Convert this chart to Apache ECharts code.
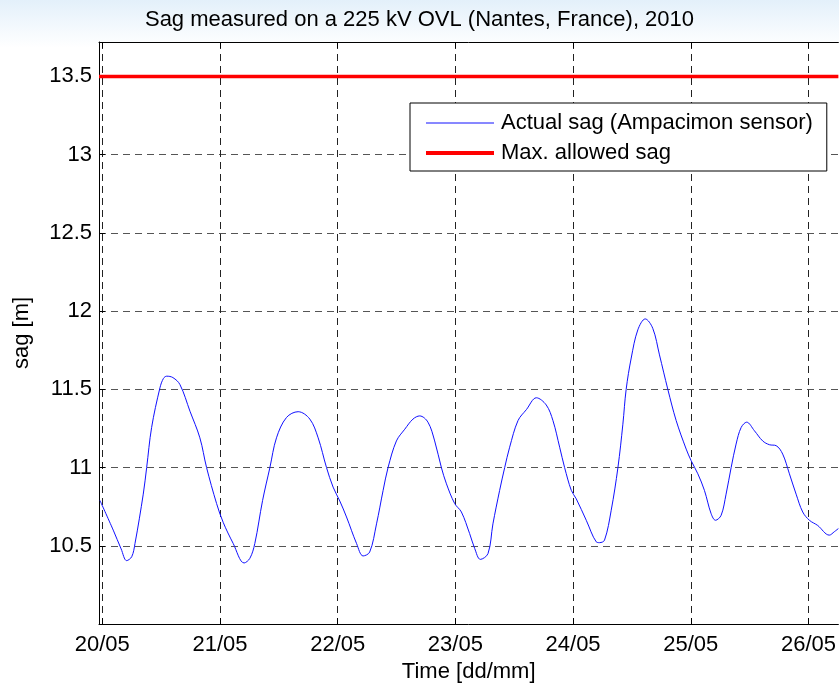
<!DOCTYPE html>
<html>
<head>
<meta charset="utf-8">
<title>Sag measured on a 225 kV OVL</title>
<script src="https://cdn.jsdelivr.net/npm/echarts@6/dist/echarts.min.js"></script>
<style>
  html, body {
    margin: 0;
    padding: 0;
    background: #fff;
  }
  #main-chart {
    width: 839px;
    height: 688px;
    background: linear-gradient(to bottom, #e3f0fa 0px, #f2f8fd 25px, #ffffff 48px);
  }
</style>
</head>
<body>
<div id="main-chart"></div>
<script>
// time axis is in days counted from 20/05 00:00
var dayTicks = [0, 1, 2, 3, 4, 5, 6];
var dayLabels = ['20/05', '21/05', '22/05', '23/05', '24/05', '25/05', '26/05'];

var sagDays = [
  -0.02, 0.093, 0.16, 0.207, 0.25, 0.278, 0.348, 0.377, 0.419, 0.49, 0.52, 0.547, 0.6, 0.66,
  0.745, 0.829, 0.886, 0.971, 1.027, 1.112, 1.205, 1.254, 1.296, 1.362, 1.424, 1.48, 1.565,
  1.664, 1.763, 1.834, 1.905, 1.961, 2.018, 2.075, 2.16, 2.216, 2.272, 2.33, 2.386, 2.428,
  2.499, 2.57, 2.64, 2.697, 2.767, 2.824, 2.881, 2.924, 2.994, 3.051, 3.121, 3.164, 3.212,
  3.277, 3.319, 3.376, 3.419, 3.461, 3.532, 3.603, 3.688, 3.772, 3.829, 3.886, 3.928, 3.985,
  4.027, 4.112, 4.197, 4.225, 4.267, 4.324, 4.381, 4.423, 4.451, 4.494, 4.55, 4.613, 4.677,
  4.734, 4.805, 4.876, 4.961, 5.003, 5.06, 5.116, 5.173, 5.21, 5.258, 5.3, 5.343, 5.385,
  5.428, 5.475, 5.541, 5.611, 5.668, 5.725, 5.781, 5.838, 5.895, 5.951, 6.008, 6.078,
  6.177, 6.22, 6.254
];
var sagValues = [
  10.79, 10.60, 10.48, 10.405, 10.43, 10.515, 10.83, 11.0, 11.256, 11.51, 11.57, 11.584, 11.575, 11.53,
  11.36, 11.19, 11.0, 10.77, 10.65, 10.515, 10.39, 10.42, 10.515, 10.79, 11.0, 11.19, 11.32,
  11.357, 11.31, 11.19, 11.0, 10.875, 10.786, 10.684, 10.515, 10.435, 10.46, 10.64, 10.854, 11.0,
  11.17, 11.245, 11.31, 11.33, 11.29, 11.17, 11.0, 10.896, 10.77, 10.716, 10.578, 10.483, 10.413,
  10.45, 10.64, 10.854, 11.0, 11.13, 11.3, 11.37, 11.446, 11.40, 11.30, 11.13, 11.0, 10.854,
  10.80, 10.663, 10.525, 10.52, 10.536, 10.727, 11.0, 11.277, 11.5, 11.70, 11.88, 11.95, 11.89,
  11.72, 11.5, 11.30, 11.118, 11.044, 10.96, 10.854, 10.705, 10.663, 10.695, 10.83, 11.0, 11.15,
  11.256, 11.29, 11.235, 11.17, 11.146, 11.14, 11.086, 10.96, 10.83, 10.716, 10.663, 10.63,
  10.568, 10.59, 10.61
];

var maxAllowedSag = 13.5;
var xMin = -0.028;
var xMax = 6.254;

var font = '"Liberation Sans", Arial, Helvetica, sans-serif';

function renderChart() {
  var chartDom = document.getElementById('main-chart');
  var myChart = echarts.init(chartDom, null, { renderer: 'canvas' });

  var sagData = sagDays.map(function (d, i) {
    return [d, sagValues[i]];
  });
  var limitData = [[xMin, maxAllowedSag], [xMax, maxAllowedSag]];

  var dayFormatter = function (v) {
    var idx = dayTicks.indexOf(Math.round(v));
    return idx >= 0 ? dayLabels[idx] : '';
  };

  var option = {
    backgroundColor: 'transparent',
    animation: false,
    textStyle: { fontFamily: font },
    title: {
      text: 'Sag measured on a 225 kV OVL (Nantes, France), 2010',
      left: 'center',
      top: 4,
      padding: [5, 0, 5, 96],
      textStyle: {
        fontFamily: font,
        fontSize: 22,
        fontWeight: 'normal',
        color: '#000'
      }
    },
    legend: {
      orient: 'vertical',
      left: 410,
      top: 103,
      padding: [9, 14, 7, 14],
      itemGap: 8,
      itemWidth: 68,
      itemHeight: 24,
      backgroundColor: '#fff',
      borderColor: '#000',
      borderWidth: 1,
      itemStyle: { opacity: 0 },
      textStyle: { fontFamily: font, fontSize: 22, color: '#000', padding: [0, 0, 0, 2] },
      data: [
        { name: 'Actual sag (Ampacimon sensor)', lineStyle: { color: '#1010ff', width: 1 } },
        { name: 'Max. allowed sag', lineStyle: { color: '#ff0000', width: 4 } }
      ]
    },
    grid: {
      left: 99,
      right: 0,
      top: 42,
      bottom: 61,
      show: true,
      backgroundColor: '#fff',
      borderWidth: 0
    },
    xAxis: [
      {
        type: 'value',
        min: xMin,
        max: xMax,
        name: 'Time [dd/mm]',
        nameLocation: 'middle',
        nameGap: 37,
        nameTextStyle: { fontFamily: font, fontSize: 22, color: '#000' },
        axisLine: { show: true, onZero: false, lineStyle: { color: '#000', width: 1 } },
        axisTick: { show: true, inside: true, length: 6, customValues: dayTicks, lineStyle: { color: '#000' } },
        axisLabel: {
          customValues: dayTicks,
          formatter: dayFormatter,
          margin: 10,
          fontFamily: font,
          fontSize: 22,
          color: '#000'
        },
        splitLine: {
          show: true,
          lineStyle: { color: '#222', type: [7, 5], width: 1 }
        }
      },
      {
        type: 'value',
        position: 'top',
        min: xMin,
        max: xMax,
        axisLine: { show: true, onZero: false, lineStyle: { color: '#000', width: 1 } },
        axisTick: { show: true, inside: true, length: 6, customValues: dayTicks, lineStyle: { color: '#000' } },
        axisLabel: { show: false },
        splitLine: { show: false }
      }
    ],
    yAxis: {
      type: 'value',
      min: 10,
      max: 13.72,
      interval: 0.5,
      name: 'sag [m]',
      nameLocation: 'middle',
      nameGap: 66,
      nameTextStyle: { fontFamily: font, fontSize: 22, color: '#000' },
      axisLine: { show: true, onZero: false, lineStyle: { color: '#000', width: 1 } },
      axisTick: { show: true, inside: true, length: 6, lineStyle: { color: '#000' } },
      axisLabel: {
        showMinLabel: false,
        showMaxLabel: false,
        margin: 7,
        fontFamily: font,
        fontSize: 22,
        color: '#000'
      },
      splitLine: {
        show: true,
        lineStyle: { color: '#555', type: [7, 5], width: 1 }
      }
    },
    series: [
      {
        name: 'Actual sag (Ampacimon sensor)',
        type: 'line',
        symbol: 'none',
        smooth: 0.35,
        lineStyle: { color: '#1010ff', width: 1 },
        itemStyle: { color: '#1010ff' },
        data: sagData
      },
      {
        name: 'Max. allowed sag',
        type: 'line',
        symbol: 'none',
        lineStyle: { color: '#ff0000', width: 3.5 },
        itemStyle: { color: '#ff0000' },
        data: limitData
      }
    ]
  };

  option && myChart.setOption(option);
}

renderChart();
</script>
</body>
</html>
